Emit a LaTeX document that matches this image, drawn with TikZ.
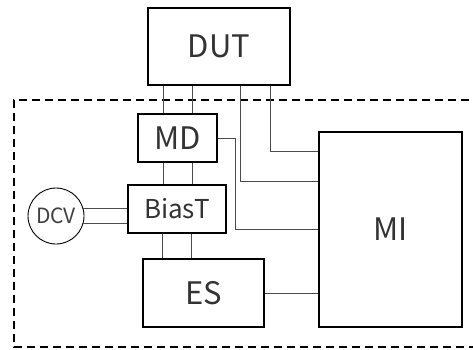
\documentclass[tikz,border=0pt]{standalone}
\usepackage{fontspec}
\setmainfont{Noto Sans CJK JP}
\usepackage{tikz}

\begin{document}
\begin{tikzpicture}[x=1pt, y=-1pt,
        box/.style={draw, line width=1.2pt, inner sep=0pt, text=black!80, font=\fontsize{31}{31}\selectfont},
        source/.style={circle, draw, line width=0.9pt, inner sep=0pt, minimum size=56pt, text=black!75, font=\fontsize{21}{21}\selectfont},
        wire/.style={line width=0.7pt, black!70},
        frame/.style={line width=2pt, dash pattern=on 8pt off 5pt}
    ]
        \useasboundingbox (0,0) rectangle (473,349);
        % Dashed enclosure (runs off the right edge)
        \draw[frame] (495,100) -- (14,100) -- (14,347) -- (495,347);
        % Blocks
        \node[box, minimum width=142pt, minimum height=77pt] (dut) at (219,46.5) {DUT};
        \node[box, minimum width=79pt, minimum height=48pt] (md) at (177.5,138) {MD};
        \node[box, minimum width=98pt, minimum height=48pt, font=\fontsize{26}{26}\selectfont] (biast) at (177,209) {BiasT};
        \node[box, minimum width=121pt, minimum height=68pt] (es) at (203.5,293) {ES};
        \node[box, minimum width=143pt, minimum height=195pt] (mi) at (390.5,229.5) {MI};
        \node[source] (dcv) at (56,216) {DCV};
        % Vertical pairs DUT - MD - BiasT - ES
        \foreach \dx in {-14.5,14.5} {
            \draw[wire] ([xshift=\dx]md.north) -- ([xshift=\dx]md.north |- dut.south);
            \draw[wire] ([xshift=\dx]md.south) -- ([xshift=\dx]md.south |- biast.north);
            \draw[wire] ([xshift=\dx]biast.south) -- ([xshift=\dx]biast.south |- es.north);
        }
        % DUT to MI
        \draw[wire] ([xshift=21]dut.south) |- ([yshift=48.5]mi.west);
        \draw[wire] ([xshift=51]dut.south) |- ([yshift=78.5]mi.west);
        % MD to MI
        \draw[wire] (md.east) -- ++(18,0) |- (mi.west);
        % ES to MI
        \draw[wire] (es.east) -- (es.east -| mi.west);
        % DCV to BiasT
        \foreach \a in {15,-16} {
            \draw[wire] (dcv.\a) -- (dcv.\a -| biast.west);
        }
    \end{tikzpicture}
\end{document}
